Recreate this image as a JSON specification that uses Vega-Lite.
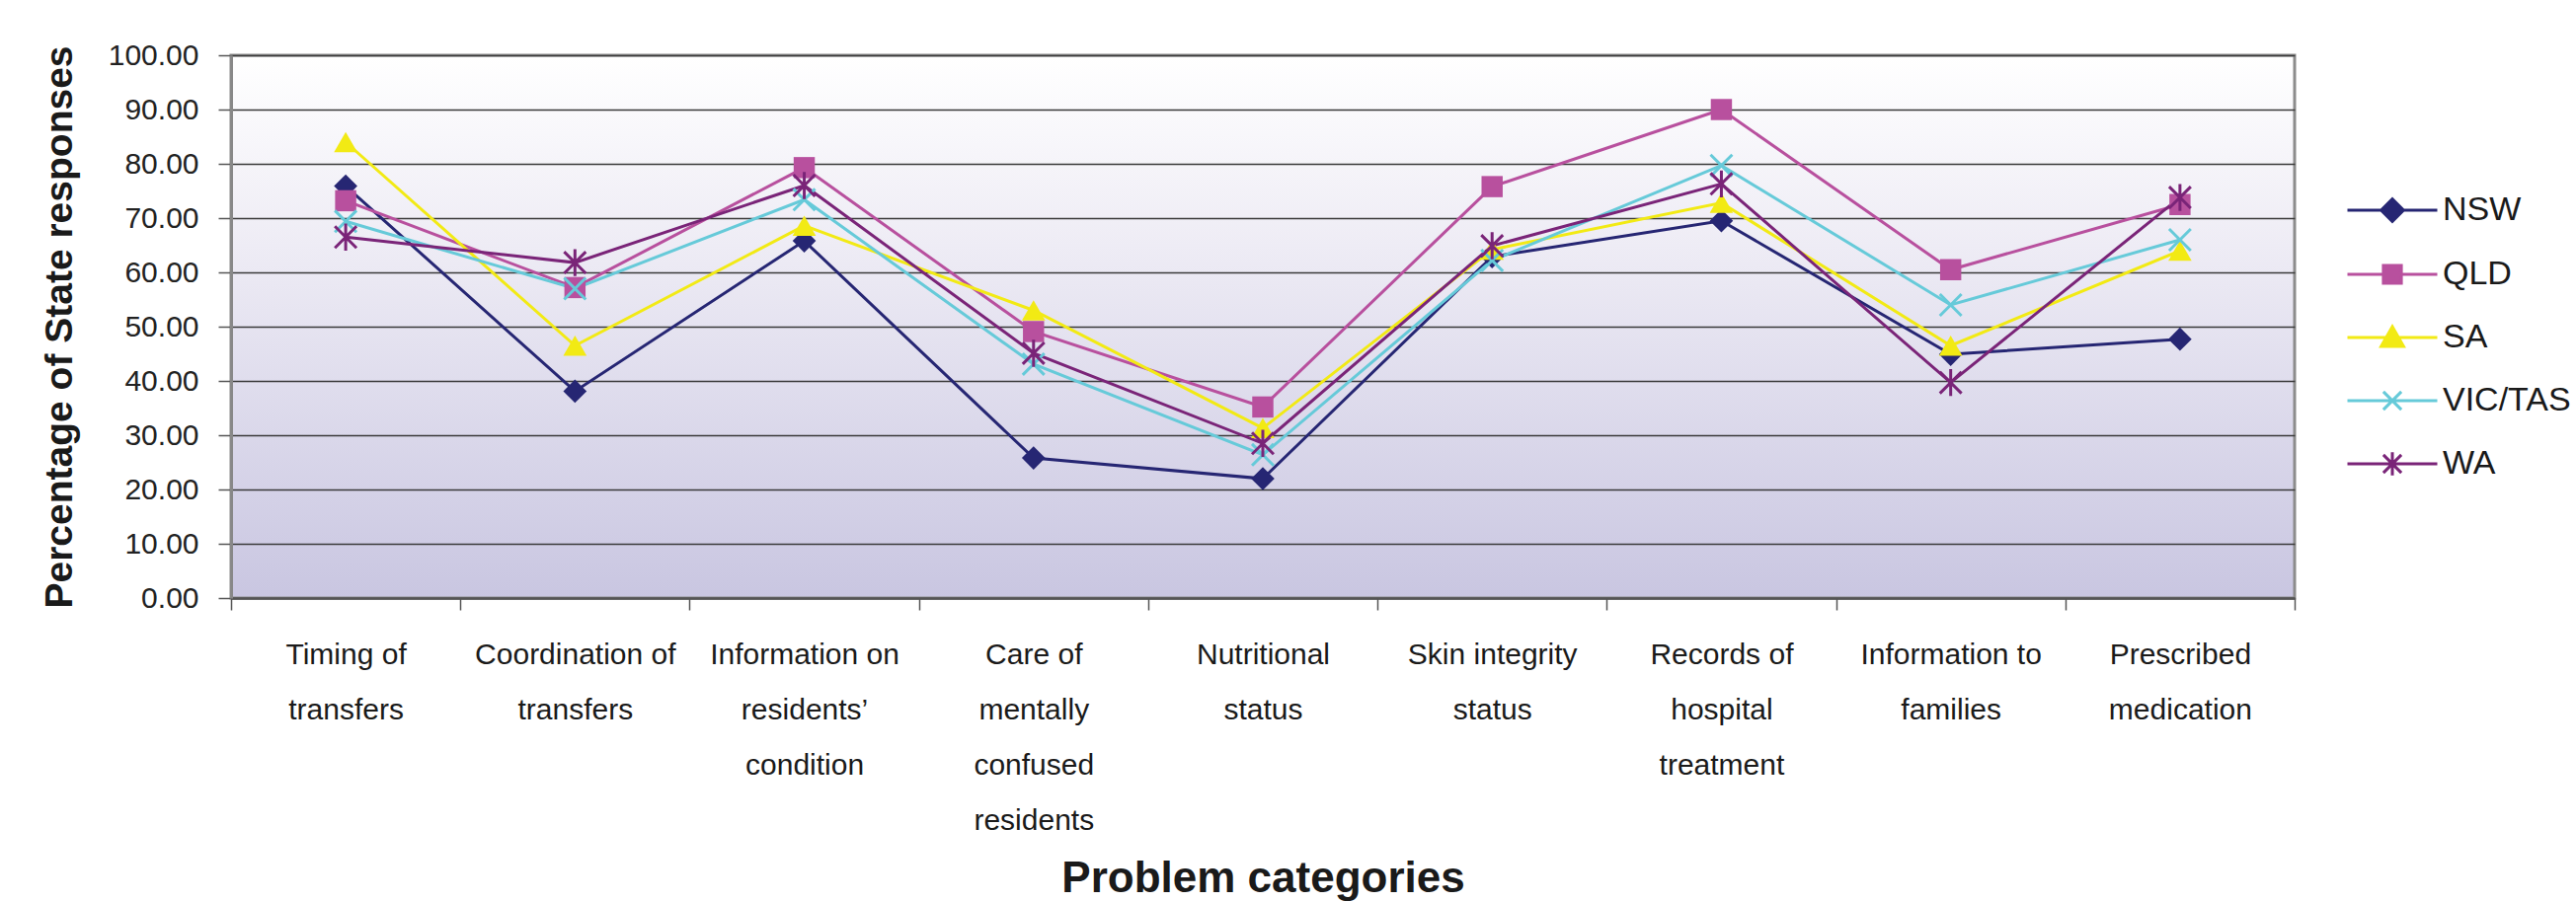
{
  "$schema": "https://vega.github.io/schema/vega-lite/v6.json",
  "autosize": {"type": "none"},
  "padding": {"left": 234, "top": 56, "right": 285, "bottom": 308},
  "width": 2090,
  "height": 550,
  "background": "#ffffff",
  "config": {
    "font": "Liberation Sans",
    "view": {
      "fill": {"gradient": "linear", "x1": 0, "y1": 0, "x2": 0, "y2": 1,
        "stops": [{"offset": 0, "color": "#ffffff"}, {"offset": 0.35, "color": "#eeecf5"}, {"offset": 1, "color": "#c9c6e1"}]},
      "stroke": "#8c8c8c",
      "strokeWidth": 3
    }
  },
  "data": {"values": [
    {"cat": "Timing of transfers", "state": "NSW", "v": 75.9},
    {"cat": "Timing of transfers", "state": "QLD", "v": 73.2},
    {"cat": "Timing of transfers", "state": "SA", "v": 84.0},
    {"cat": "Timing of transfers", "state": "VIC/TAS", "v": 69.4},
    {"cat": "Timing of transfers", "state": "WA", "v": 66.5},
    {"cat": "Coordination of transfers", "state": "NSW", "v": 38.1},
    {"cat": "Coordination of transfers", "state": "QLD", "v": 57.2},
    {"cat": "Coordination of transfers", "state": "SA", "v": 46.5},
    {"cat": "Coordination of transfers", "state": "VIC/TAS", "v": 57.0},
    {"cat": "Coordination of transfers", "state": "WA", "v": 61.8},
    {"cat": "Information on residents’ condition", "state": "NSW", "v": 65.8},
    {"cat": "Information on residents’ condition", "state": "QLD", "v": 79.3},
    {"cat": "Information on residents’ condition", "state": "SA", "v": 68.6},
    {"cat": "Information on residents’ condition", "state": "VIC/TAS", "v": 73.4},
    {"cat": "Information on residents’ condition", "state": "WA", "v": 76.0},
    {"cat": "Care of mentally confused residents", "state": "NSW", "v": 25.8},
    {"cat": "Care of mentally confused residents", "state": "QLD", "v": 49.1},
    {"cat": "Care of mentally confused residents", "state": "SA", "v": 53.0},
    {"cat": "Care of mentally confused residents", "state": "VIC/TAS", "v": 43.1},
    {"cat": "Care of mentally confused residents", "state": "WA", "v": 45.1},
    {"cat": "Nutritional status", "state": "NSW", "v": 22.0},
    {"cat": "Nutritional status", "state": "QLD", "v": 35.2},
    {"cat": "Nutritional status", "state": "SA", "v": 31.3},
    {"cat": "Nutritional status", "state": "VIC/TAS", "v": 26.4},
    {"cat": "Nutritional status", "state": "WA", "v": 28.5},
    {"cat": "Skin integrity status", "state": "NSW", "v": 62.9},
    {"cat": "Skin integrity status", "state": "QLD", "v": 75.8},
    {"cat": "Skin integrity status", "state": "SA", "v": 64.2},
    {"cat": "Skin integrity status", "state": "VIC/TAS", "v": 62.2},
    {"cat": "Skin integrity status", "state": "WA", "v": 64.9},
    {"cat": "Records of hospital treatment", "state": "NSW", "v": 69.5},
    {"cat": "Records of hospital treatment", "state": "QLD", "v": 90.0},
    {"cat": "Records of hospital treatment", "state": "SA", "v": 72.8},
    {"cat": "Records of hospital treatment", "state": "VIC/TAS", "v": 79.7},
    {"cat": "Records of hospital treatment", "state": "WA", "v": 76.3},
    {"cat": "Information to families", "state": "NSW", "v": 44.9},
    {"cat": "Information to families", "state": "QLD", "v": 60.5},
    {"cat": "Information to families", "state": "SA", "v": 46.5},
    {"cat": "Information to families", "state": "VIC/TAS", "v": 54.0},
    {"cat": "Information to families", "state": "WA", "v": 39.7},
    {"cat": "Prescribed medication", "state": "NSW", "v": 47.7},
    {"cat": "Prescribed medication", "state": "QLD", "v": 72.5},
    {"cat": "Prescribed medication", "state": "SA", "v": 64.0},
    {"cat": "Prescribed medication", "state": "VIC/TAS", "v": 66.0},
    {"cat": "Prescribed medication", "state": "WA", "v": 73.8}
  ]},
  "encoding": {
    "x": {
      "field": "cat", "type": "nominal", "sort": null,
      "scale": {"paddingInner": 0, "paddingOuter": 0},
      "axis": {
        "title": "Problem categories",
        "titleFont": "Liberation Sans", "titleFontSize": 44, "titleFontWeight": "bold", "titleColor": "#1a1a1a",
        "titlePadding": 62,
        "labelAngle": 0, "labelFontSize": 30, "labelColor": "#1a1a1a", "labelLineHeight": 56,
        "labelBaseline": "top", "labelPadding": 30, "labelLimit": 0,
        "labelExpr": "{'Timing of transfers': ['Timing of', 'transfers'], 'Coordination of transfers': ['Coordination of', 'transfers'], 'Information on residents’ condition': ['Information on', 'residents’', 'condition'], 'Care of mentally confused residents': ['Care of', 'mentally', 'confused', 'residents'], 'Nutritional status': ['Nutritional', 'status'], 'Skin integrity status': ['Skin integrity', 'status'], 'Records of hospital treatment': ['Records of', 'hospital', 'treatment'], 'Information to families': ['Information to', 'families'], 'Prescribed medication': ['Prescribed', 'medication']}[datum.label]",
        "tickBand": "extent", "tickSize": 12, "tickColor": "#555555", "tickWidth": 1.5,
        "domainColor": "#555555", "domainWidth": 2.5,
        "grid": false
      }
    },
    "y": {
      "field": "v", "type": "quantitative",
      "scale": {"domain": [0, 100], "nice": false},
      "axis": {
        "title": "Percentage of State responses",
        "titleFont": "Liberation Sans", "titleFontSize": 39, "titleFontWeight": "bold", "titleColor": "#1a1a1a",
        "titlePadding": 29,
        "values": [0, 10, 20, 30, 40, 50, 60, 70, 80, 90, 100],
        "format": ".2f", "labelFontSize": 30, "labelColor": "#222222", "labelPadding": 20,
        "tickSize": 13, "tickColor": "#555555", "tickWidth": 1.5,
        "domainColor": "#888888", "domainWidth": 3,
        "grid": true, "gridColor": "#3a3a3a", "gridWidth": 1.3
      }
    }
  },
  "layer": [
    {
      "mark": {"type": "line", "strokeWidth": 3},
      "encoding": {
        "color": {"field": "state", "type": "nominal",
          "scale": {"domain": ["NSW", "QLD", "SA", "VIC/TAS", "WA"], "range": ["#262673", "#b8509e", "#f2ea14", "#66cad9", "#7a2478"]},
          "legend": {
            "title": null, "orient": "none", "legendX": 2142, "legendY": 110,
            "labelFontSize": 34, "labelColor": "#1a1a1a", "labelOffset": 4,
            "symbolSize": 8281, "symbolStrokeWidth": 3, "rowPadding": -5, "padding": 0,
            "encode": {
              "symbols": {"update": {
                "fill": {"signal": "scale('color', datum.value)"},
                "stroke": {"signal": "scale('color', datum.value)"},
                "strokeWidth": {"value": 3},
                "size": {"value": 8281},
                "opacity": {"value": 1}
              }}
            }
          }},
        "detail": {"field": "state"}
      }
    },
    {
      "transform": [{"filter": "datum.state === 'NSW'"}],
      "mark": {"type": "point", "shape": "diamond", "filled": true, "opacity": 1, "size": 560},
      "encoding": {"color": {"field": "state", "type": "nominal", "legend": null}}
    },
    {
      "transform": [{"filter": "datum.state === 'QLD'"}],
      "mark": {"type": "point", "shape": "square", "filled": true, "opacity": 1, "size": 460},
      "encoding": {"color": {"field": "state", "type": "nominal", "legend": null}}
    },
    {
      "transform": [{"filter": "datum.state === 'SA'"}],
      "mark": {"type": "point", "shape": "triangle-up", "filled": true, "opacity": 1, "size": 560},
      "encoding": {"color": {"field": "state", "type": "nominal", "legend": null}}
    },
    {
      "transform": [{"filter": "datum.state === 'VIC/TAS'"}],
      "mark": {"type": "point", "shape": "M-1,-1L1,1M1,-1L-1,1", "filled": false, "opacity": 1, "size": 480, "strokeWidth": 3},
      "encoding": {"color": {"field": "state", "type": "nominal", "legend": null}}
    },
    {
      "transform": [{"filter": "datum.state === 'WA'"}],
      "mark": {"type": "point", "shape": "M-1,-1L1,1M1,-1L-1,1M0,-1.25L0,1.25", "filled": false, "opacity": 1, "size": 480, "strokeWidth": 3},
      "encoding": {"color": {"field": "state", "type": "nominal", "legend": null}}
    },
    {
      "mark": {"type": "point", "filled": true, "opacity": 0, "size": 10},
      "encoding": {
        "color": {"field": "state", "type": "nominal", "legend": null},
        "shape": {"field": "state", "type": "nominal", "legend": null,
          "scale": {"domain": ["NSW", "QLD", "SA", "VIC/TAS", "WA"], "range": [
            "M-1,0L1,0M-0.25,0L0,-0.25L0.25,0L0,0.25Z",
            "M-1,0L1,0M-0.2,-0.2L0.2,-0.2L0.2,0.2L-0.2,0.2Z",
            "M-1,0L1,0M0,-0.24L0.25,0.2L-0.25,0.2Z",
            "M-1,0L1,0M-0.2,-0.2L0.2,0.2M0.2,-0.2L-0.2,0.2",
            "M-1,0L1,0M-0.2,-0.2L0.2,0.2M0.2,-0.2L-0.2,0.2M0,-0.26L0,0.26"]}}
      }
    }
  ]
}
